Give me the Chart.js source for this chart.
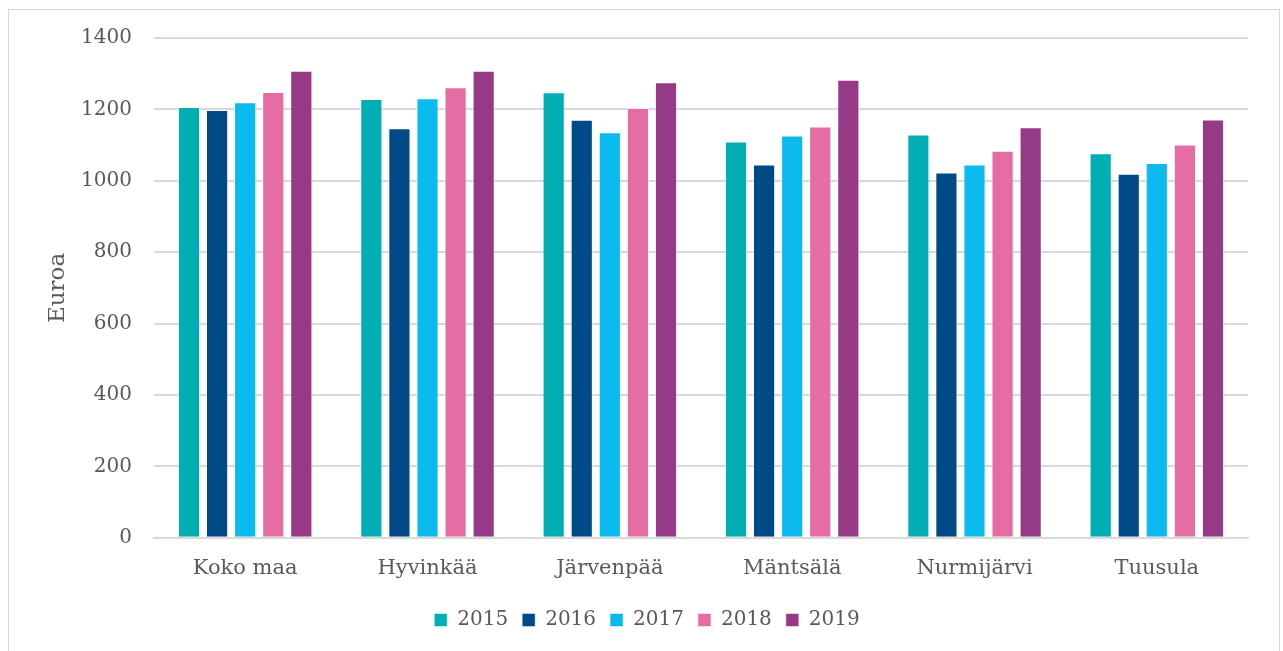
<!DOCTYPE html>
<html>
<head>
<meta charset="utf-8">
<script src="https://cdn.jsdelivr.net/npm/chart.js@4"></script>
<style>
  body { margin: 0; background: #fff; }
  #box { position: absolute; left: 8px; top: 9px; width: 1270px; height: 660px; border: 1px solid #d9d9d9; }
  #wrap { position: absolute; left: 0; top: 0; width: 1270px; height: 641px; }
</style>
</head>
<body>
<div id="box"><div id="wrap"><canvas id="graf"></canvas></div></div>
<script>
  const kunnat = ["Koko maa", "Hyvinkää", "Järvenpää", "Mäntsälä", "Nurmijärvi", "Tuusula"];
  const vuodet = ["2015", "2016", "2017", "2018", "2019"];
  const v2015 = [1207, 1229, 1248, 1110, 1130, 1077];
  const v2016 = [1198, 1147, 1171, 1046, 1023, 1020];
  const v2017 = [1220, 1231, 1136, 1127, 1046, 1050];
  const v2018 = [1249, 1262, 1204, 1152, 1084, 1102];
  const v2019 = [1308, 1308, 1276, 1283, 1150, 1172];
  const yTicks = [0, 200, 400, 600, 800, 1000, 1200, 1400];
  const varit = ["#00aeb3", "#004a87", "#0bbbef", "#e56da4", "#963a88"];

  const sarjat = [v2015, v2016, v2017, v2018, v2019];
  const fontti = "'DejaVu Serif', Georgia, serif";
  const teksti = "#595959";

  new Chart(document.getElementById('graf').getContext('2d'), {
    type: 'bar',
    data: {
      labels: kunnat,
      datasets: sarjat.map((data, i) => ({
        label: vuodet[i],
        data: data,
        backgroundColor: varit[i],
        borderColor: 'rgba(255,255,255,0.5)',
        borderWidth: 1,
        categoryPercentage: 0.77,
        barPercentage: 0.79
      }))
    },
    options: {
      responsive: true,
      maintainAspectRatio: false,
      animation: false,
      layout: { padding: { left: 37, right: 31, top: 28, bottom: 11 } },
      plugins: {
        tooltip: { enabled: false },
        legend: {
          position: 'bottom',
          labels: {
            boxWidth: 13, boxHeight: 13, padding: 14,
            color: teksti,
            font: { family: fontti, size: 20 }
          }
        }
      },
      scales: {
        x: {
          grid: { display: false },
          border: { color: '#d9d9d9', width: 2 },
          ticks: { color: teksti, font: { family: fontti, size: 21 }, padding: 10 },
          afterFit: (axis) => { axis.height += 5; }
        },
        y: {
          min: 0, max: 1400,
          afterBuildTicks: (axis) => { axis.ticks = yTicks.map(v => ({ value: v })); },
          afterFit: (axis) => { axis.width = 108; },
          grid: { color: '#d9d9d9', lineWidth: 2, drawTicks: true, tickLength: 18, tickColor: 'rgba(0,0,0,0)' },
          border: { display: false },
          title: {
            display: true, text: 'Euroa', color: teksti,
            font: { family: fontti, size: 23 }, padding: { top: -2, bottom: 0 }
          },
          ticks: {
            color: teksti, font: { family: fontti, size: 20 }, padding: 4,
            callback: (v) => String(v)
          }
        }
      }
    }
  });
</script>
</body>
</html>
